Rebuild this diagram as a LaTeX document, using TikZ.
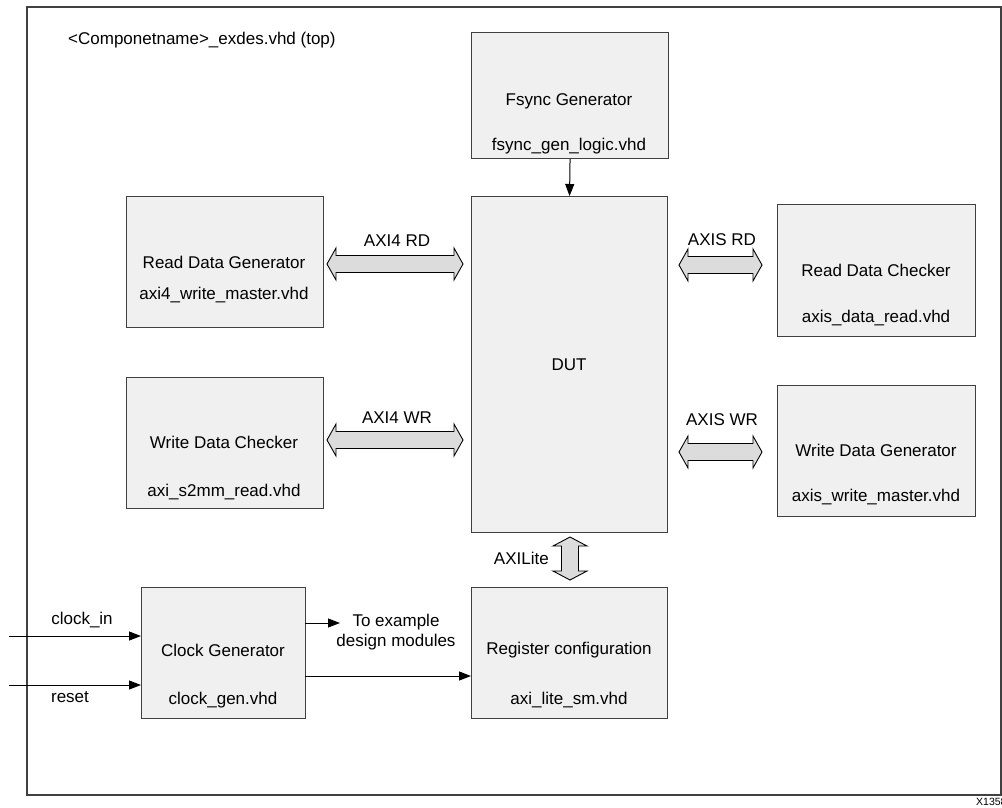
\documentclass[tikz,border=0pt]{standalone}
\usepackage{fontspec}
\setmainfont{Liberation Sans}
\usetikzlibrary{arrows.meta,calc}
\definecolor{boxfill}{HTML}{F0F0F0}
\definecolor{boxline}{HTML}{404040}
\definecolor{arrfill}{HTML}{DCDCDC}
\tikzset{
  box/.style={draw=boxline, fill=boxfill, line width=1.1pt, anchor=north west, inner sep=0pt},
  lbl/.style={font=\fontsize{17}{20}\selectfont, inner sep=0pt, text=black},
  thin/.style={line width=1pt, -{Triangle[length=12pt,width=9pt]}},
  fat/.style={draw=black, fill=arrfill, line width=0.9pt, line join=miter},
}
\newcommand\hfat[3]{%
  \filldraw[fat] (#1,#3) -- (#1+9,#3-16) -- (#1+9,#3-8.5) -- (#2-9,#3-8.5) -- (#2-9,#3-16) -- (#2,#3) -- (#2-9,#3+16) -- (#2-9,#3+8.5) -- (#1+9,#3+8.5) -- (#1+9,#3+16) -- cycle;}
\newcommand\vfat[3]{%
  \filldraw[fat] (#3,#1) -- (#3-17,#1+9) -- (#3-8.5,#1+9) -- (#3-8.5,#2-9) -- (#3-17,#2-9) -- (#3,#2) -- (#3+17,#2-9) -- (#3+8.5,#2-9) -- (#3+8.5,#1+9) -- (#3+17,#1+9) -- cycle;}
\begin{document}
\begin{tikzpicture}[x=1pt,y=-1pt]
\useasboundingbox (0,0) rectangle (1002,807);
\fill[white] (0,0) rectangle (1002,807);
% outer frame
\draw[draw=boxline, line width=1.1pt] (27,7) rectangle (1001,795);
\node[lbl, anchor=west] (top) at (68,40) {<Componetname>\_exdes.vhd (top)};
\node[anchor=west, font=\fontsize{10.5}{12}\selectfont, inner sep=0pt] (xid) at (976,802) {X1358};

% boxes
\node[box, minimum width=197pt, minimum height=126pt] (fsync) at (471,32) {};
\node[box, minimum width=196pt, minimum height=336pt] (dut) at (471,196) {};
\node[box, minimum width=197pt, minimum height=131pt] (rdg) at (126,196) {};
\node[box, minimum width=197pt, minimum height=131pt] (wdc) at (126,377) {};
\node[box, minimum width=198pt, minimum height=132pt] (rdc) at (777,204) {};
\node[box, minimum width=198pt, minimum height=131pt] (wdg) at (777,385) {};
\node[box, minimum width=164pt, minimum height=131pt] (clk) at (141,587) {};
\node[box, minimum width=196pt, minimum height=131pt] (reg) at (471,587) {};

% box texts
\node[lbl] (fsynct) at (569,101) {Fsync Generator};
\node[lbl] (fsyncf) at (569,146) {fsync\_gen\_logic.vhd};
\node[lbl] (dutt) at (569,365) {DUT};
\node[lbl] (rdgt) at (224,262) {Read Data Generator};
\node[lbl] (rdgf) at (224,295) {axi4\_write\_master.vhd};
\node[lbl] (wdct) at (224,442) {Write Data Checker};
\node[lbl] (wdcf) at (224,492) {axi\_s2mm\_read.vhd};
\node[lbl] (rdct) at (876,270) {Read Data Checker};
\node[lbl] (rdcf) at (876,318) {axis\_data\_read.vhd};
\node[lbl] (wdgt) at (876,450) {Write Data Generator};
\node[lbl] (wdgf) at (876,497) {axis\_write\_master.vhd};
\node[lbl] (clkt) at (223,650) {Clock Generator};
\node[lbl] (clkf) at (223,700) {clock\_gen.vhd};
\node[lbl] (regt) at (569,650) {Register configuration};
\node[lbl] (regf) at (569,700) {axi\_lite\_sm.vhd};

% fat arrows
\hfat{327}{463}{264}
\hfat{327}{463}{440}
\hfat{679}{762}{265}
\hfat{679}{762}{452}
\vfat{537}{580}{570}
\node[lbl] (axi4rd) at (397,241) {AXI4 RD};
\node[lbl] (axi4wr) at (397,418) {AXI4 WR};
\node[lbl] (axisrd) at (722,240) {AXIS RD};
\node[lbl] (axiswr) at (722,420) {AXIS WR};
\node[lbl, anchor=east] (axil) at (549,558) {AXILite};

% thin arrows
\draw[thin] (fsync.south) -- (dut.north);
\coordinate (cin) at (9,636);
\coordinate (rin) at (9,685);
\draw[thin] (cin) -- (cin -| clk.west);
\draw[thin] (rin) -- (rin -| clk.west);
\node[lbl] (cinl) at (82,620) {clock\_in};
\node[lbl] (rinl) at (70,697) {reset};
\coordinate (ex1) at (305,623);
\coordinate (ex2) at (340,623);
\draw[thin] (ex1) -- (ex2);
\node[lbl, align=center] (ext) at (396,632) {To example\\design modules};
\coordinate (rc) at (305,676);
\draw[thin] (rc) -- (rc -| reg.west);
\end{tikzpicture}
\end{document}
